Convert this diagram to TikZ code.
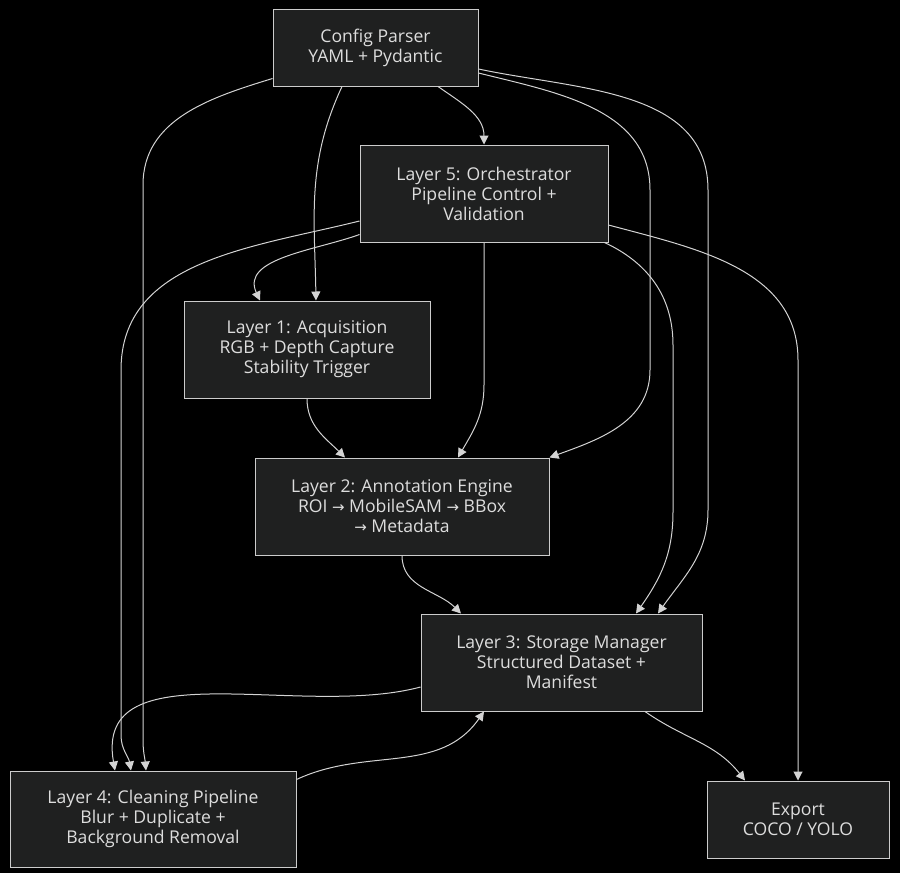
\documentclass[tikz,border=0pt]{standalone}
\usepackage{fontspec}
\setmainfont{Open Sans}
\newfontfamily\arrowfont{DejaVu Sans}
\newcommand{\toarrow}{{\arrowfont\fontsize{15}{20}\selectfont →}}
\usetikzlibrary{arrows.meta,positioning}
\definecolor{boxfill}{HTML}{1F2020}
\definecolor{boxline}{HTML}{CCCCCC}
\definecolor{linkline}{HTML}{D3D3D3}
\definecolor{boxtext}{HTML}{DDDDDD}

\begin{document}
\begin{tikzpicture}[x=1pt, y=1pt,
every node/.style={
        font=\fontsize{17.6}{20}\selectfont, text=boxtext
    },
    box/.style = {rectangle, draw=boxline, fill=boxfill, line width=1pt,
                  inner sep=0pt, align=center,
                  execute at begin node={\rule{0pt}{18pt}},
                  minimum width=#1, minimum height=97pt},
    box/.default = 246pt,
    link/.style = {color=linkline, line width=1pt,
                   -{Triangle[length=9pt,width=9pt]}}% style for connectors
    ]
\fill[black] (0,0) rectangle (900,-873);
\useasboundingbox (0,0) rectangle (900,-873);

\node (Config) [box=205pt, minimum height=77pt] at (375.5,-47.5)
        {Config Parser\\YAML + Pydantic};
\node (Orch)   [box=248pt, below=58pt of Config, xshift=108.5pt]
        {Layer 5: Orchestrator\\Pipeline Control +\\Validation};
\node (Acq)    [box=246pt, below=58pt of Orch, xshift=-177pt]
        {Layer 1: Acquisition\\RGB + Depth Capture\\Stability Trigger};
\node (Annot)  [box=294pt, below=59pt of Acq, xshift=95pt]
        {Layer 2: Annotation Engine\\ROI \toarrow{} MobileSAM \toarrow{} BBox\\\toarrow{} Metadata};
\node (Store)  [box=281pt, below=58pt of Annot, xshift=159.5pt]
        {Layer 3: Storage Manager\\Structured Dataset +\\Manifest};
\node (Clean)  [box=286pt, minimum height=96pt, below=59pt of Store, xshift=-408.5pt]
        {Layer 4: Cleaning Pipeline\\Blur + Duplicate +\\Background Removal};
\node (Export) [box=182pt, minimum height=77pt, below=69pt of Store, xshift=236.5pt]
        {Export\\COCO / YOLO};

%% short connectors
\path[link]
    ([xshift=62.5pt]Config.south)  edge [out=-35, in=90]   (Orch.north)
    ([xshift=-33.5pt]Config.south) edge [out=-115, in=91]  ([xshift=9pt]Acq.north)
    ([yshift=8pt]Orch.south west)  edge [out=200, in=115]  ([xshift=-47pt]Acq.north)
    (Acq.south)                    edge [out=-90, in=135]  ([xshift=-57pt]Annot.north)
    (Annot.south)                  edge [out=-90, in=135]  ([xshift=-100.5pt]Store.north)
    ([yshift=-24.5pt]Store.west)   edge [out=195, in=100]  ([xshift=-38pt]Clean.north)
    ([yshift=-9pt]Clean.north east) edge [out=25, in=-125] ([xshift=-77.5pt]Store.south)
    ([xshift=83.5pt]Store.south)   edge [out=-35, in=128]  ([xshift=-53pt]Export.north);

%% long connectors
\draw[link] ([yshift=8pt]Config.south west) to[out=197, in=90] (143,-185)
    -- (143,-740) to[out=-90, in=95] ([xshift=-7pt]Clean.north);
\draw[link] ([yshift=-25.5pt]Config.east) to[out=-14, in=90] (650,-190)
    -- (650,-370) to[out=-90, in=20] (Annot.north east);
\draw[link] ([yshift=-21.5pt]Config.east) to[out=-12, in=90] (708,-190)
    -- (708,-510) to[out=-90, in=55] ([xshift=96.5pt]Store.north);
\draw[link] ([yshift=-27.5pt]Orch.west) to[out=194, in=90] (121,-370)
    -- (121,-735) to[out=-90, in=100] ([xshift=-22pt]Clean.north);
\draw[link] (Orch.south) -- (484,-385) to[out=-90, in=60] ([xshift=56pt]Annot.north);
\draw[link] ([xshift=-4pt]Orch.south east) to[out=-25, in=90] (673,-345)
    -- (673,-512) to[out=-90, in=55] ([xshift=74.5pt]Store.north);
\draw[link] ([yshift=-31.5pt]Orch.east) to[out=-15, in=90] (798,-360)
    -- (Export.north);
\end{tikzpicture}
\end{document}
